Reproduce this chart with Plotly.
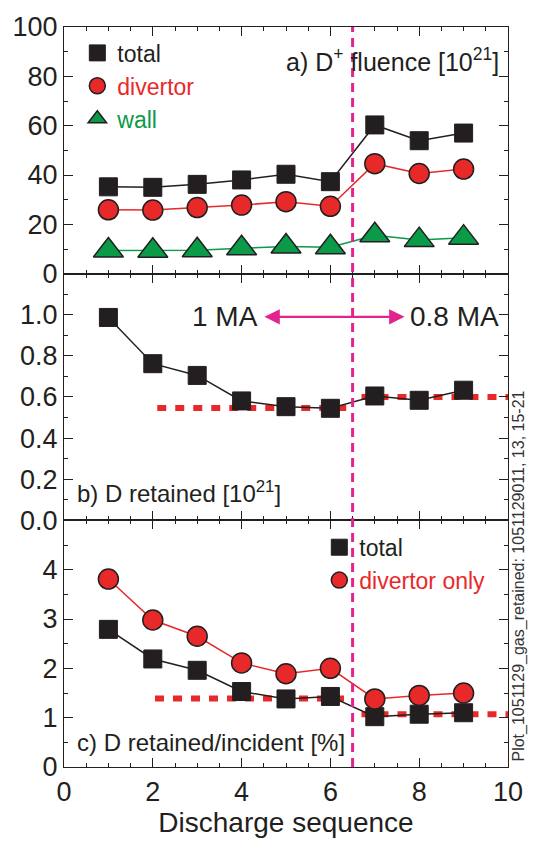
import plotly.graph_objects as go
from plotly.subplots import make_subplots

seq = [1, 2, 3, 4, 5, 6, 7, 8, 9]

# a) D+ fluence [1e21]
flu_total = [35.2, 35.0, 36.2, 38.0, 40.3, 37.3, 60.3, 53.9, 57.0]
flu_div = [25.9, 25.8, 26.8, 27.8, 29.2, 27.3, 44.6, 40.6, 42.4]
flu_wall = [9.4, 9.3, 9.5, 10.3, 11.0, 10.7, 15.6, 13.6, 14.6]

# b) D retained [1e21]
ret_total = [0.987, 0.762, 0.705, 0.581, 0.553, 0.545, 0.605, 0.584, 0.633]
ret_fit_x = [[2.1, 6.45], [6.7, 10.0]]
ret_fit_y = [0.547, 0.600]

# c) D retained / incident [%]
frac_total = [2.79, 2.19, 1.96, 1.53, 1.38, 1.43, 1.02, 1.07, 1.10]
frac_div = [3.81, 2.98, 2.65, 2.11, 1.89, 2.00, 1.38, 1.45, 1.50]
frac_fit_x = [[2.05, 6.4], [6.7, 10.0]]
frac_fit_y = [1.39, 1.07]

split_x = 6.5

ytick_a = [0, 20, 40, 60, 80, 100]
ytick_b = [0.0, 0.2, 0.4, 0.6, 0.8, 1.0, 1.2]
ytext_b = ["0.0", "0.2", "0.4", "0.6", "0.8", "1.0", ""]
ytick_c = [0, 1, 2, 3, 4, 5]
ytext_c = ["0", "1", "2", "3", "4", ""]

BLACK = "#231f20"
RED = "#e8292a"
GREEN = "#0a9a48"
MAG = "#e3248f"
FONT = "Liberation Sans"

fig = make_subplots(rows=3, cols=1, shared_xaxes=True, vertical_spacing=0)

def sq():
    return dict(symbol="square", size=18, color=BLACK, line=dict(width=1, color=BLACK))

def circ():
    return dict(symbol="circle", size=20, color=RED, line=dict(width=1.5, color=BLACK))

def tri():
    return dict(symbol="triangle-up", size=26, color=GREEN, line=dict(width=1.5, color=BLACK))

# panel a
fig.add_trace(go.Scatter(x=seq, y=flu_total, mode="lines+markers", line=dict(color=BLACK, width=1.5),
                         marker=sq(), showlegend=False), row=1, col=1)
fig.add_trace(go.Scatter(x=seq, y=flu_div, mode="lines+markers", line=dict(color=RED, width=1.5),
                         marker=circ(), showlegend=False), row=1, col=1)
fig.add_trace(go.Scatter(x=seq, y=flu_wall, mode="lines+markers", line=dict(color=GREEN, width=1.5),
                         marker=tri(), showlegend=False), row=1, col=1)

# legend-only entries for panel a
fig.add_trace(go.Scatter(x=[None], y=[None], mode="markers", marker=sq(), name="total", legend="legend"), row=1, col=1)
fig.add_trace(go.Scatter(x=[None], y=[None], mode="markers", marker=circ(),
                         name='<span style="color:%s">divertor</span>' % RED, legend="legend"), row=1, col=1)
fig.add_trace(go.Scatter(x=[None], y=[None], mode="markers", marker=tri(),
                         name='<span style="color:%s">wall</span>' % GREEN, legend="legend"), row=1, col=1)

# panel b
for fx, fy in zip(ret_fit_x, ret_fit_y):
    fig.add_trace(go.Scatter(x=fx, y=[fy, fy], mode="lines", line=dict(color=RED, width=6, dash="9px,9px"),
                             showlegend=False), row=2, col=1)
fig.add_trace(go.Scatter(x=seq, y=ret_total, mode="lines+markers", line=dict(color=BLACK, width=1.5),
                         marker=sq(), showlegend=False), row=2, col=1)

# panel c
for fx, fy in zip(frac_fit_x, frac_fit_y):
    fig.add_trace(go.Scatter(x=fx, y=[fy, fy], mode="lines", line=dict(color=RED, width=6, dash="9px,9px"),
                             showlegend=False), row=3, col=1)
fig.add_trace(go.Scatter(x=seq, y=frac_total, mode="lines+markers", line=dict(color=BLACK, width=1.5),
                         marker=sq(), showlegend=False), row=3, col=1)
fig.add_trace(go.Scatter(x=seq, y=frac_div, mode="lines+markers", line=dict(color=RED, width=1.5),
                         marker=circ(), showlegend=False), row=3, col=1)
fig.add_trace(go.Scatter(x=[None], y=[None], mode="markers", marker=sq(), name="total", legend="legend2"), row=3, col=1)
fig.add_trace(go.Scatter(x=[None], y=[None], mode="markers", marker=circ(),
                         name='<span style="color:%s">divertor only</span>' % RED, legend="legend2"), row=3, col=1)

axis_common = dict(showline=True, linecolor=BLACK, linewidth=1.3, mirror="ticks", ticks="inside",
                   ticklen=9, tickwidth=1.2, tickcolor=BLACK, showgrid=False, zeroline=False,
                   tickfont=dict(family=FONT, size=27, color=BLACK))

def minor(d):
    return dict(tickmode="linear", tick0=0, dtick=d, ticklen=4, tickwidth=1, ticks="inside", tickcolor=BLACK)

for r in (1, 2, 3):
    fig.update_xaxes(range=[0, 10], dtick=2, minor=minor(0.5), row=r, col=1, **axis_common)
fig.update_xaxes(title=dict(text="Discharge sequence", font=dict(family=FONT, size=28, color=BLACK), standoff=4),
                 row=3, col=1)

fig.update_yaxes(range=[0, 100], tickmode="array", tickvals=ytick_a, minor=minor(10),
                 row=1, col=1, **axis_common)
fig.update_yaxes(range=[0, 1.2], tickmode="array", tickvals=ytick_b, ticktext=ytext_b, minor=minor(0.1),
                 row=2, col=1, **axis_common)
fig.update_yaxes(range=[0, 5], tickmode="array", tickvals=ytick_c, ticktext=ytext_c, minor=minor(0.5),
                 row=3, col=1, **axis_common)

# vertical separator line across all panels
fig.add_shape(type="line", xref="x", yref="paper", x0=split_x, x1=split_x, y0=0, y1=1,
              line=dict(color=MAG, width=3, dash="9px,6px"), layer="above")

fig.add_annotation(xref="x", yref="y", x=9.85, y=86.5, text="a) D<sup>+</sup> fluence [10<sup>21</sup>]",
                   showarrow=False, xanchor="right", font=dict(family=FONT, size=25, color=BLACK))
fig.add_annotation(xref="x2", yref="y2", x=0.25, y=0.14, text="b) D retained [10<sup>21</sup>]",
                   showarrow=False, xanchor="left", font=dict(family=FONT, size=24, color=BLACK))
fig.add_annotation(xref="x3", yref="y3", x=0.25, y=0.5, text="c) D retained/incident [%]",
                   showarrow=False, xanchor="left", font=dict(family=FONT, size=24, color=BLACK))

# current arrow
fig.add_annotation(xref="x2", yref="y2", axref="x2", ayref="y2", x=7.67, y=0.99, ax=4.48, ay=0.99,
                   text="", showarrow=True, arrowhead=2, startarrowhead=2, arrowside="end+start",
                   arrowsize=1.4, startarrowsize=1.4, arrowwidth=2.2, arrowcolor=MAG, standoff=0, startstandoff=0)
fig.add_annotation(xref="x2", yref="y2", x=4.42, y=0.99, text="1 MA", showarrow=False, xanchor="right",
                   font=dict(family=FONT, size=28, color=BLACK))
fig.add_annotation(xref="x2", yref="y2", x=7.75, y=0.99, text="0.8 MA", showarrow=False, xanchor="left",
                   font=dict(family=FONT, size=28, color=BLACK))

fig.add_annotation(xref="paper", yref="paper", x=1.0, xanchor="left", xshift=-1, y=0.0, yshift=3, yanchor="bottom",
                   text="Plot_1051129_gas_retained: 1051129011, 13, 15-21", textangle=-90,
                   showarrow=False, font=dict(family=FONT, size=16, color="#333333"))

fig.update_layout(
    width=535, height=842,
    margin=dict(l=63, r=18, t=25, b=70),
    paper_bgcolor="white", plot_bgcolor="white",
    font=dict(family=FONT, color=BLACK),
    legend=dict(x=0.03, y=0.994, xanchor="left", yanchor="top", bgcolor="rgba(0,0,0,0)",
                font=dict(family=FONT, size=23, color=BLACK), itemsizing="trace", tracegroupgap=0, itemwidth=30),
    legend2=dict(x=0.575, y=0.326, xanchor="left", yanchor="top", bgcolor="rgba(0,0,0,0)",
                 font=dict(family=FONT, size=23, color=BLACK), itemsizing="trace", tracegroupgap=0, itemwidth=30),
)

fig.write_html("out.html")
